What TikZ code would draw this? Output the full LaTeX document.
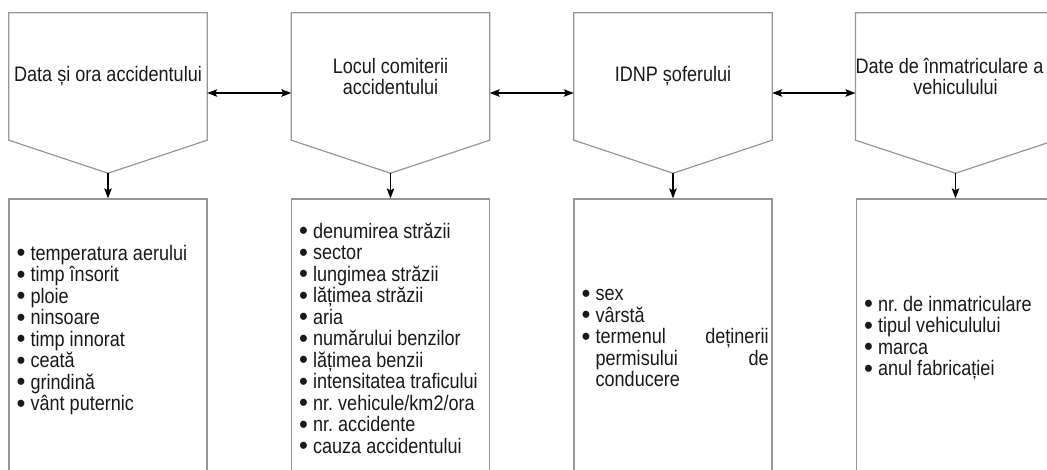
\documentclass[tikz,border=0pt]{standalone}
\usepackage{fontspec}
\setmainfont{Liberation Sans}[FakeStretch=0.86]
\usetikzlibrary{arrows.meta}

\definecolor{boxgray}{RGB}{150,150,150}
\definecolor{inkgray}{RGB}{25,25,25}

% one bullet line, later lines hang under the text
\newcommand{\itm}[1]{\hangindent=14pt\hangafter=1\noindent
  \makebox[14pt][l]{\smash{\raisebox{-0.08em}{\scalebox{1.4}[1.25]{•}}}}#1\par}

\begin{document}
\begin{tikzpicture}[->,>={Stealth[length=10pt,width=7.5pt,inset=2pt]},x=1pt,y=-1pt,
                    node distance=282.5pt,
                    font=\fontsize{21}{21.5}\selectfont\frenchspacing,text=inkgray,
                    title/.style={minimum width=198pt,minimum height=127pt,
                                  align=center,inner sep=0pt},
                    data/.style={draw=boxgray,line width=1.2pt,
                                 minimum width=198pt,minimum height=291pt},
                    items/.style={anchor=west,text width=187pt,inner sep=0pt,align=justify,
                                  execute at begin node={\tolerance=10000\hyphenpenalty=10000}},
                    outline/.style={-,draw=boxgray,line width=1.2pt},
                    link/.style={line width=1.4pt,draw=black}]
  \useasboundingbox (0,0) rectangle (1047,469);
  \clip (0,0) rectangle (1047,469);

  \node[title] (t1) at (108,76.5) {Data și ora accidentului};
  \node[title] (t2) [right of=t1] {Locul comiterii\\accidentului};
  \node[title] (t3) [right of=t2] {IDNP șoferului};
  \node[title] (t4) [right of=t3] {Date de înmatriculare a\hspace*{12pt}\\vehiculului};

  \node[data] (d1) [below of=t1,node distance=268pt] {};
  \node[data] (d2) [below of=t2,node distance=268pt] {};
  \node[data] (d3) [below of=t3,node distance=268pt] {};
  \node[data] (d4) [below of=t4,node distance=268pt] {};

  % pointed bottoms of the header boxes
  \coordinate (p1) at ([yshift=-33pt]t1.south);
  \coordinate (p2) at ([yshift=-33pt]t2.south);
  \coordinate (p3) at ([yshift=-33pt]t3.south);
  \coordinate (p4) at ([yshift=-33pt]t4.south);
  \draw[outline] (t1.north west) -- (t1.north east) -- (t1.south east) -- (p1) -- (t1.south west) -- cycle;
  \draw[outline] (t2.north west) -- (t2.north east) -- (t2.south east) -- (p2) -- (t2.south west) -- cycle;
  \draw[outline] (t3.north west) -- (t3.north east) -- (t3.south east) -- (p3) -- (t3.south west) -- cycle;
  \draw[outline] (t4.north west) -- (t4.north east) -- (t4.south east) -- (p4) -- (t4.south west) -- cycle;

  \node[items] (l1) at ([xshift=8pt,yshift=14.5pt]d1.west)
    {\itm{temperatura aerului}\itm{timp însorit}\itm{ploie}\itm{ninsoare}
     \itm{timp innorat}\itm{ceată}\itm{grindină}\itm{vânt puternic}};
  \node[items] (l2) at ([xshift=8pt,yshift=6.5pt]d2.west)
    {\itm{denumirea străzii}\itm{sector}\itm{lungimea străzii}\itm{lățimea străzii}
     \itm{aria}\itm{numărului benzilor}\itm{lățimea benzii}\itm{intensitatea traficului}
     \itm{nr. vehicule/km2/ora}\itm{nr. accidente}\itm{cauza accidentului}};
  \node[items] (l3) at ([xshift=8pt,yshift=6.5pt]d3.west)
    {\itm{sex}\itm{vârstă}\itm{termenul deținerii\linebreak permisului de\linebreak conducere}};
  \node[items] (l4) at ([xshift=8pt,yshift=6.5pt]d4.west)
    {\itm{nr. de inmatriculare}\itm{tipul vehiculului}\itm{marca}\itm{anul fabricației}};

  \path (p1) edge[link] (d1)
        (p2) edge[link] (d2)
        (p3) edge[link] (d3)
        (p4) edge[link] (d4);
  \path ([yshift=-16.5pt]t1.east) edge[link,<->] ([yshift=-16.5pt]t2.west)
        ([yshift=-16.5pt]t2.east) edge[link,<->] ([yshift=-16.5pt]t3.west)
        ([yshift=-16.5pt]t3.east) edge[link,<->] ([yshift=-16.5pt]t4.west);
\end{tikzpicture}
\end{document}
